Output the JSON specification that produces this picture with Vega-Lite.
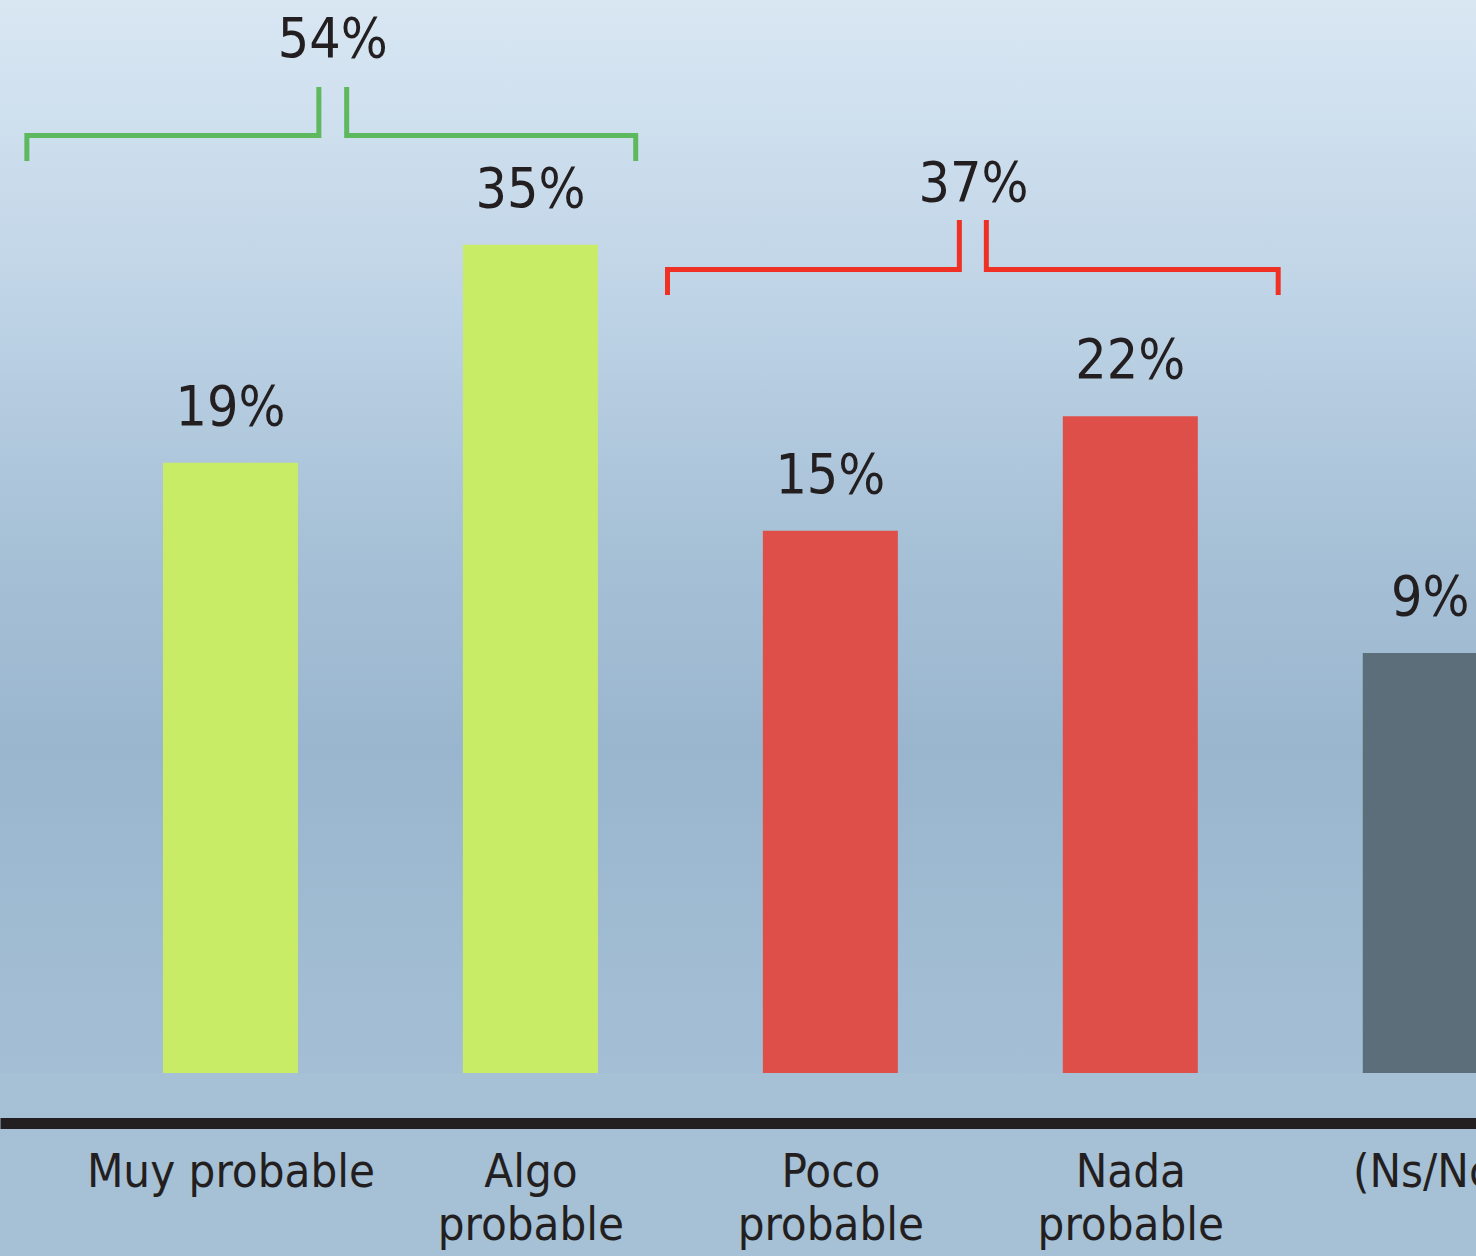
{
  "$schema": "https://vega.github.io/schema/vega-lite/v6.json",
  "width": 1476,
  "height": 1073,
  "autosize": {"type": "none"},
  "padding": {"left": 0, "top": 0, "right": 0, "bottom": 183},
  "background": "#A6C0D6",
  "config": {
    "view": {
      "stroke": null,
      "fill": {
        "gradient": "linear", "x1": 0, "y1": 0, "x2": 0, "y2": 1,
        "stops": [
          {"offset": 0, "color": "#D9E7F3"},
          {"offset": 0.25, "color": "#C2D6E8"},
          {"offset": 0.5, "color": "#A7C1D7"},
          {"offset": 0.7, "color": "#9AB6CE"},
          {"offset": 1, "color": "#A4BFD5"}
        ]
      }
    },
    "font": "Liberation Sans Narrow, DejaVu Sans Condensed, Roboto Condensed, Roboto"
  },
  "datasets": {
    "bars": [
      {"cat": "Muy probable", "idx": 1, "value": 19, "label": "19%", "group": "probable"},
      {"cat": "Algo probable", "idx": 2, "value": 35, "label": "35%", "group": "probable"},
      {"cat": "Poco probable", "idx": 3, "value": 15, "label": "15%", "group": "improbable"},
      {"cat": "Nada probable", "idx": 4, "value": 22, "label": "22%", "group": "improbable"},
      {"cat": "(Ns/Nc)", "idx": 5, "value": 9, "label": "9%", "group": "nsnc"}
    ],
    "brackets": [
      {"seg": "g1", "group": "probable", "o": 1, "x": 0.3212, "y": 42.44},
      {"seg": "g1", "group": "probable", "o": 2, "x": 0.3212, "y": 44.84},
      {"seg": "g1", "group": "probable", "o": 3, "x": 1.2947, "y": 44.84},
      {"seg": "g1", "group": "probable", "o": 4, "x": 1.2947, "y": 49.6},
      {"seg": "g2", "group": "probable", "o": 1, "x": 1.3874, "y": 49.6},
      {"seg": "g2", "group": "probable", "o": 2, "x": 1.3874, "y": 44.84},
      {"seg": "g2", "group": "probable", "o": 3, "x": 2.351, "y": 44.84},
      {"seg": "g2", "group": "probable", "o": 4, "x": 2.351, "y": 42.44},
      {"seg": "r1", "group": "improbable", "o": 1, "x": 2.457, "y": 30.88},
      {"seg": "r1", "group": "improbable", "o": 2, "x": 2.457, "y": 32.94},
      {"seg": "r1", "group": "improbable", "o": 3, "x": 3.430, "y": 32.94},
      {"seg": "r1", "group": "improbable", "o": 4, "x": 3.430, "y": 37.12},
      {"seg": "r2", "group": "improbable", "o": 1, "x": 3.520, "y": 37.12},
      {"seg": "r2", "group": "improbable", "o": 2, "x": 3.520, "y": 32.94},
      {"seg": "r2", "group": "improbable", "o": 3, "x": 4.493, "y": 32.94},
      {"seg": "r2", "group": "improbable", "o": 4, "x": 4.493, "y": 30.88}
    ],
    "totals": [
      {"label": "54%", "x": 1.341, "y": 52.7},
      {"label": "37%", "x": 3.477, "y": 38.8}
    ]
  },
  "layer": [
    {
      "data": {"name": "bars"},
      "mark": {"type": "bar", "width": 135},
      "encoding": {
        "x": {
          "field": "idx", "type": "quantitative",
          "scale": {"domain": [0.2483, 5.1358], "nice": false, "zero": false},
          "axis": {
            "values": [1, 2, 3, 4, 5],
            "title": null,
            "grid": false,
            "ticks": false,
            "offset": 50,
            "domainColor": "#231F20",
            "domainWidth": 11,
            "domainCap": "butt",
            "labelFontSize": 47,
            "labelColor": "#231F20",
            "labelLineHeight": 53,
            "labelPadding": 26,
            "labelBaseline": "top",
            "labelLimit": 0,
            "labelOverlap": false,
            "labelBound": false,
            "labelFlush": false,
            "labelExpr": "datum.value == 1 ? 'Muy probable' : datum.value == 2 ? ['Algo', 'probable'] : datum.value == 3 ? ['Poco', 'probable'] : datum.value == 4 ? ['Nada', 'probable'] : '(Ns/Nc)'"
          }
        },
        "y": {
          "field": "value", "type": "quantitative",
          "scale": {"type": "sqrt", "domain": [0, 58.74], "nice": false, "zero": true},
          "axis": null
        },
        "color": {
          "field": "group", "type": "nominal",
          "scale": {"domain": ["probable", "improbable", "nsnc"], "range": ["#C9EC67", "#DF4F4A", "#5B6E7A"]},
          "legend": null
        }
      }
    },
    {
      "data": {"name": "bars"},
      "mark": {"type": "text", "baseline": "alphabetic", "dy": -38, "fontSize": 55, "color": "#231F20"},
      "encoding": {
        "x": {"field": "idx", "type": "quantitative"},
        "y": {"field": "value", "type": "quantitative"},
        "text": {"field": "label"}
      }
    },
    {
      "data": {"name": "brackets"},
      "mark": {"type": "line", "strokeWidth": 5, "strokeCap": "butt", "strokeJoin": "miter"},
      "encoding": {
        "x": {"field": "x", "type": "quantitative"},
        "y": {"field": "y", "type": "quantitative"},
        "detail": {"field": "seg"},
        "order": {"field": "o", "type": "quantitative"},
        "color": {
          "field": "group", "type": "nominal",
          "scale": {"domain": ["probable", "improbable", "nsnc"], "range": ["#5DB85E", "#EE3124", "#5B6E7A"]},
          "legend": null
        }
      }
    },
    {
      "data": {"name": "totals"},
      "mark": {"type": "text", "baseline": "alphabetic", "fontSize": 55, "color": "#231F20"},
      "encoding": {
        "x": {"field": "x", "type": "quantitative"},
        "y": {"field": "y", "type": "quantitative"},
        "text": {"field": "label"}
      }
    }
  ],
  "resolve": {"scale": {"color": "independent"}}
}
